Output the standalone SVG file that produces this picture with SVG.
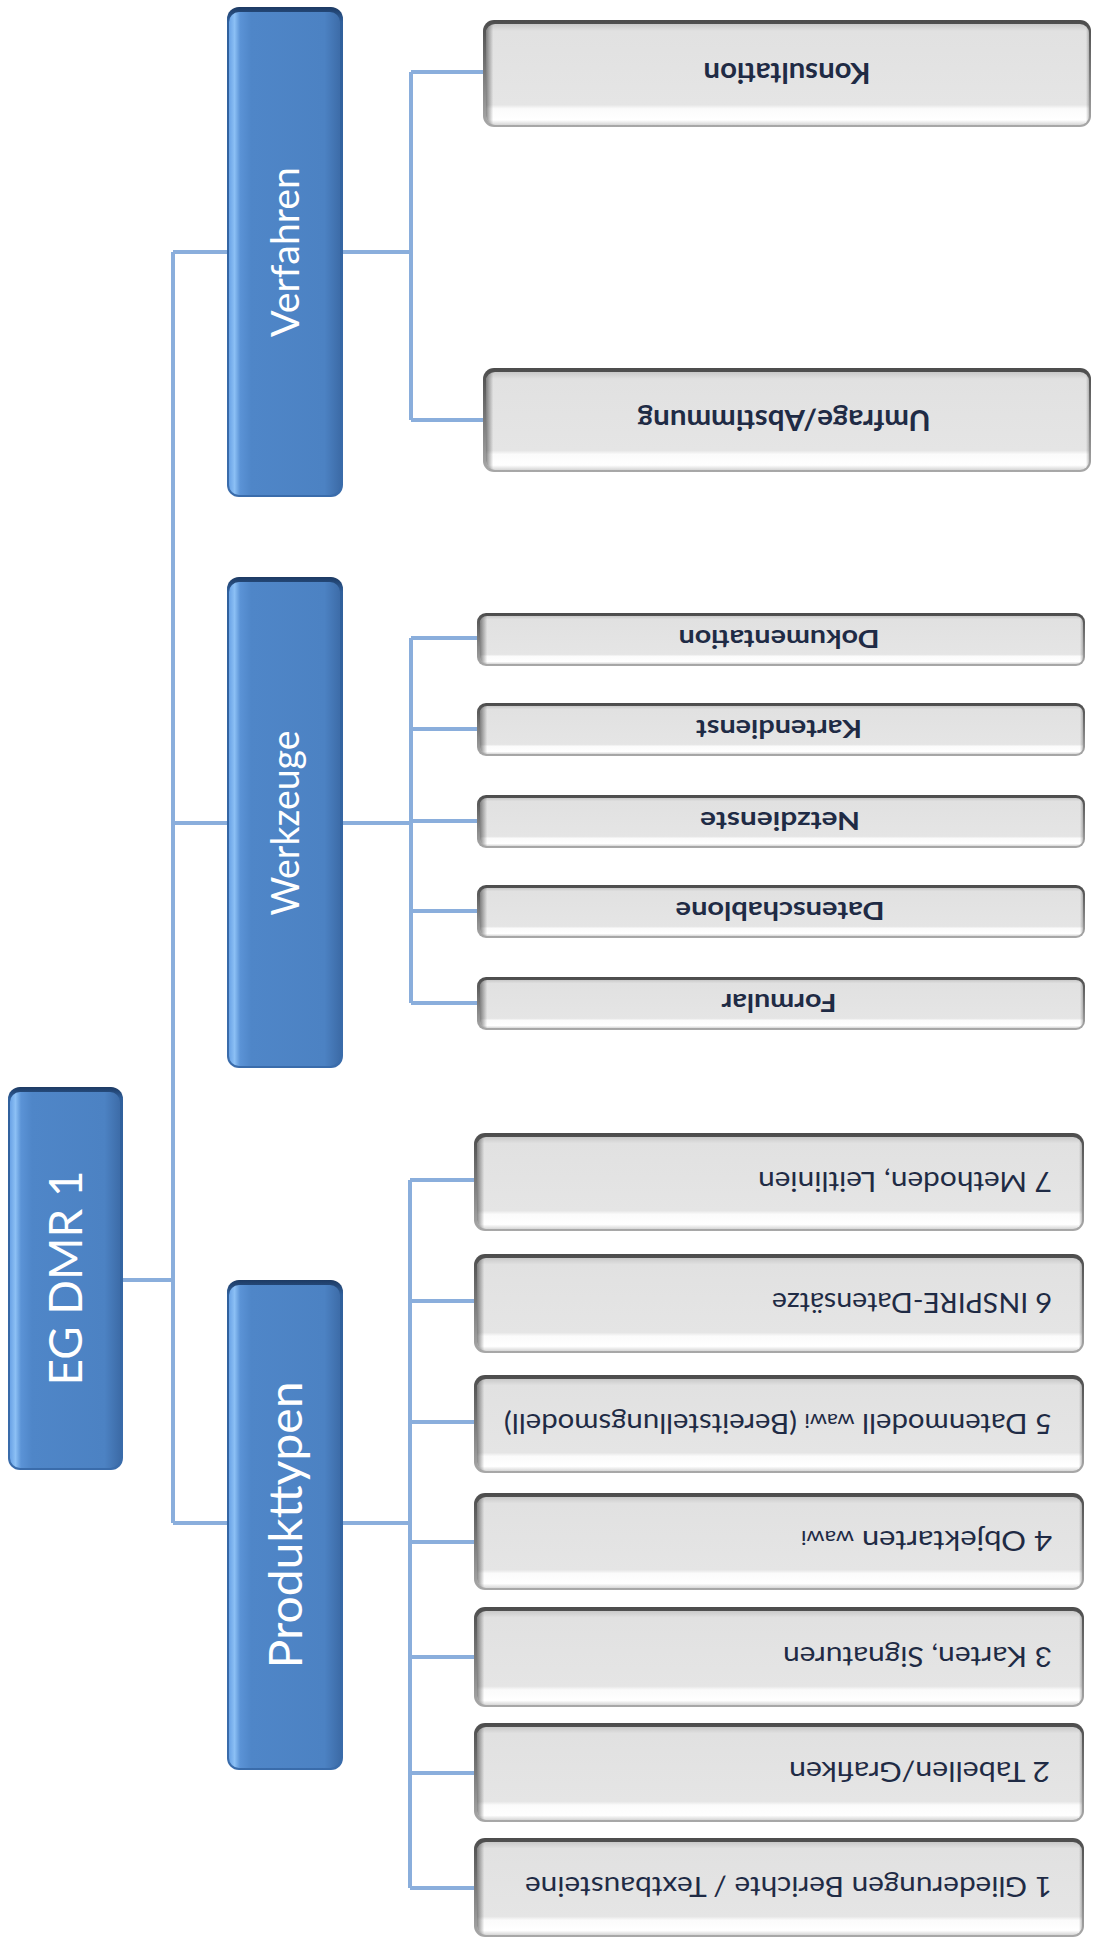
<svg xmlns="http://www.w3.org/2000/svg" width="1093" height="1945" viewBox="0 0 1093 1945">
<style>
.conn{fill:none;stroke:#8aaedc;stroke-width:4}
.mt{font-family:Lato,'Open Sans',sans-serif;fill:#ffffff}
.ct{font-family:Lato,'Open Sans',sans-serif;fill:#1f2b45}
.cb{font-weight:bold}
.rimB{fill:url(#blueRim)}
.faceB{fill:url(#blueFace)}
.rimG{fill:url(#grayRim)}
.faceG{fill:url(#grayFace)}
.shadeG{fill:url(#grayLeft)}
</style>
<defs>
<linearGradient id="blueRim" x1="0" y1="0" x2="0" y2="1">
<stop offset="0" stop-color="#1d3a63"/><stop offset="0.03" stop-color="#30609c"/><stop offset="1" stop-color="#3a6cab"/>
</linearGradient>
<linearGradient id="blueFace" x1="0" y1="0" x2="1" y2="0">
<stop offset="0" stop-color="#6aa3e6"/><stop offset="0.05" stop-color="#8cc0f5"/><stop offset="0.1" stop-color="#5b93d6"/><stop offset="0.2" stop-color="#4f86c8"/><stop offset="0.86" stop-color="#4c82c3"/><stop offset="1" stop-color="#3d6ca8"/>
</linearGradient>
<linearGradient id="grayRim" x1="0" y1="0" x2="0" y2="1">
<stop offset="0" stop-color="#4c4c4c"/><stop offset="0.5" stop-color="#7a7a7a"/><stop offset="1" stop-color="#a8a8a8"/>
</linearGradient>
<linearGradient id="grayFace" x1="0" y1="0" x2="0" y2="1">
<stop offset="0" stop-color="#c9c9c9"/><stop offset="0.07" stop-color="#e1e1e1"/><stop offset="0.8" stop-color="#e5e5e5"/><stop offset="0.84" stop-color="#fbfbfb"/><stop offset="0.95" stop-color="#ffffff"/><stop offset="1" stop-color="#d6d6d6"/>
</linearGradient>
<linearGradient id="grayLeft" x1="0" y1="0" x2="1" y2="0">
<stop offset="0" stop-color="#3c3c3c" stop-opacity="0.6"/><stop offset="0.012" stop-color="#3c3c3c" stop-opacity="0"/><stop offset="0.995" stop-color="#3c3c3c" stop-opacity="0"/><stop offset="1" stop-color="#3c3c3c" stop-opacity="0.3"/>
</linearGradient>
</defs>
<rect width="1093" height="1945" fill="#ffffff"/>

<g id="connectors">
<path class="conn" d="M173 252 V1523"/>
<path class="conn" d="M173 252 H229 M173 823 H229 M173 1523 H229"/>
<path class="conn" d="M121 1280 H173"/>
<path class="conn" d="M341 252 H411 M411 72 V420 M411 72 H485 M411 420 H485"/>
<path class="conn" d="M341 823 H411 M411 638 V1003 M411 638 H479 M411 729 H479 M411 821 H479 M411 911 H479 M411 1003 H479"/>
<path class="conn" d="M341 1523 H410 M410 1180 V1888 M410 1180 H476 M410 1301 H476 M410 1422 H476 M410 1542 H476 M410 1657 H476 M410 1773 H476 M410 1888 H476"/>
</g>

<g id="node-egdmr1">
<rect class="rimB" x="8" y="1087" width="115" height="383" rx="12"/>
<rect class="faceB" x="10" y="1092" width="110" height="376" rx="10"/>
<text class="mt" x="65" y="1295" font-size="47" text-anchor="middle" textLength="215" lengthAdjust="spacingAndGlyphs" transform="rotate(-90 65 1278)">EG DMR 1</text>
</g>

<g id="node-verfahren">
<rect class="rimB" x="227" y="7" width="116" height="490" rx="12"/>
<rect class="faceB" x="229" y="12" width="111" height="483" rx="10"/>
<text class="mt" x="285" y="266" font-size="38" text-anchor="middle" textLength="170" lengthAdjust="spacingAndGlyphs" transform="rotate(-90 285 252)">Verfahren</text>
</g>

<g id="node-werkzeuge">
<rect class="rimB" x="227" y="577" width="116" height="491" rx="12"/>
<rect class="faceB" x="229" y="582" width="111" height="484" rx="10"/>
<text class="mt" x="285" y="837" font-size="38" text-anchor="middle" textLength="185" lengthAdjust="spacingAndGlyphs" transform="rotate(-90 285 823)">Werkzeuge</text>
</g>

<g id="node-produkttypen">
<rect class="rimB" x="227" y="1280" width="116" height="490" rx="12"/>
<rect class="faceB" x="229" y="1285" width="111" height="483" rx="10"/>
<text class="mt" x="285" y="1542" font-size="46" text-anchor="middle" textLength="287" lengthAdjust="spacingAndGlyphs" transform="rotate(-90 285 1525)">Produkttypen</text>
</g>

<g id="node-konsultation">
<rect class="rimG" x="483" y="20" width="608" height="107" rx="11"/>
<rect class="faceG" x="486" y="24" width="603" height="101" rx="9"/>
<rect class="shadeG" x="486" y="24" width="603" height="101" rx="9"/>
<text class="ct cb" x="787" y="83" font-size="28" text-anchor="middle" textLength="167" lengthAdjust="spacingAndGlyphs" transform="rotate(180 787 73)">Konsultation</text>
</g>

<g id="node-umfrage">
<rect class="rimG" x="483" y="368" width="608" height="104" rx="11"/>
<rect class="faceG" x="486" y="372" width="603" height="98" rx="9"/>
<rect class="shadeG" x="486" y="372" width="603" height="98" rx="9"/>
<text class="ct cb" x="784" y="430" font-size="28" text-anchor="middle" textLength="293" lengthAdjust="spacingAndGlyphs" transform="rotate(180 784 420)">Umfrage/Abstimmung</text>
</g>

<g id="node-dokumentation">
<rect class="rimG" x="477" y="613" width="608" height="53" rx="9"/>
<rect class="faceG" x="480" y="616" width="603" height="48" rx="7"/>
<rect class="shadeG" x="480" y="616" width="603" height="48" rx="7"/>
<text class="ct cb" x="779" y="648" font-size="24" text-anchor="middle" textLength="201" lengthAdjust="spacingAndGlyphs" transform="rotate(180 779 639)">Dokumentation</text>
</g>

<g id="node-kartendienst">
<rect class="rimG" x="477" y="703" width="608" height="53" rx="9"/>
<rect class="faceG" x="480" y="706" width="603" height="48" rx="7"/>
<rect class="shadeG" x="480" y="706" width="603" height="48" rx="7"/>
<text class="ct cb" x="779" y="738" font-size="24" text-anchor="middle" textLength="166" lengthAdjust="spacingAndGlyphs" transform="rotate(180 779 729)">Kartendienst</text>
</g>

<g id="node-netzdienste">
<rect class="rimG" x="477" y="795" width="608" height="53" rx="9"/>
<rect class="faceG" x="480" y="798" width="603" height="48" rx="7"/>
<rect class="shadeG" x="480" y="798" width="603" height="48" rx="7"/>
<text class="ct cb" x="780" y="830" font-size="24" text-anchor="middle" textLength="160" lengthAdjust="spacingAndGlyphs" transform="rotate(180 780 821)">Netzdienste</text>
</g>

<g id="node-datenschablone">
<rect class="rimG" x="477" y="885" width="608" height="53" rx="9"/>
<rect class="faceG" x="480" y="888" width="603" height="48" rx="7"/>
<rect class="shadeG" x="480" y="888" width="603" height="48" rx="7"/>
<text class="ct cb" x="780" y="920" font-size="24" text-anchor="middle" textLength="209" lengthAdjust="spacingAndGlyphs" transform="rotate(180 780 911)">Datenschablone</text>
</g>

<g id="node-formular">
<rect class="rimG" x="477" y="977" width="608" height="53" rx="9"/>
<rect class="faceG" x="480" y="980" width="603" height="48" rx="7"/>
<rect class="shadeG" x="480" y="980" width="603" height="48" rx="7"/>
<text class="ct cb" x="779" y="1012" font-size="24" text-anchor="middle" textLength="115" lengthAdjust="spacingAndGlyphs" transform="rotate(180 779 1003)">Formular</text>
</g>

<g id="node-p7">
<rect class="rimG" x="474" y="1133" width="610" height="98" rx="11"/>
<rect class="faceG" x="477" y="1137" width="605" height="92" rx="9"/>
<rect class="shadeG" x="477" y="1137" width="605" height="92" rx="9"/>
<text class="ct" x="1052" y="1192" font-size="27" textLength="294" lengthAdjust="spacingAndGlyphs" transform="rotate(180 1052 1182)">7 Methoden, Leitlinien</text>
</g>

<g id="node-p6">
<rect class="rimG" x="474" y="1254" width="610" height="99" rx="11"/>
<rect class="faceG" x="477" y="1258" width="605" height="93" rx="9"/>
<rect class="shadeG" x="477" y="1258" width="605" height="93" rx="9"/>
<text class="ct" x="1052" y="1313" font-size="27" textLength="280" lengthAdjust="spacingAndGlyphs" transform="rotate(180 1052 1303)">6 INSPIRE-Datensätze</text>
</g>

<g id="node-p5">
<rect class="rimG" x="474" y="1375" width="610" height="98" rx="11"/>
<rect class="faceG" x="477" y="1379" width="605" height="92" rx="9"/>
<rect class="shadeG" x="477" y="1379" width="605" height="92" rx="9"/>
<text class="ct" x="1052" y="1434" font-size="27" textLength="548" lengthAdjust="spacingAndGlyphs" transform="rotate(180 1052 1424)">5 Datenmodell <tspan font-size="20">wawi</tspan> (Bereitstellungsmodell)</text>
</g>

<g id="node-p4">
<rect class="rimG" x="474" y="1493" width="610" height="97" rx="11"/>
<rect class="faceG" x="477" y="1497" width="605" height="91" rx="9"/>
<rect class="shadeG" x="477" y="1497" width="605" height="91" rx="9"/>
<text class="ct" x="1052" y="1551" font-size="27" textLength="251" lengthAdjust="spacingAndGlyphs" transform="rotate(180 1052 1541)">4 Objektarten <tspan font-size="20">wawi</tspan></text>
</g>

<g id="node-p3">
<rect class="rimG" x="474" y="1607" width="610" height="100" rx="11"/>
<rect class="faceG" x="477" y="1611" width="605" height="94" rx="9"/>
<rect class="shadeG" x="477" y="1611" width="605" height="94" rx="9"/>
<text class="ct" x="1052" y="1667" font-size="27" textLength="269" lengthAdjust="spacingAndGlyphs" transform="rotate(180 1052 1657)">3 Karten, Signaturen</text>
</g>

<g id="node-p2">
<rect class="rimG" x="474" y="1723" width="610" height="99" rx="11"/>
<rect class="faceG" x="477" y="1727" width="605" height="93" rx="9"/>
<rect class="shadeG" x="477" y="1727" width="605" height="93" rx="9"/>
<text class="ct" x="1050" y="1782" font-size="27" textLength="261" lengthAdjust="spacingAndGlyphs" transform="rotate(180 1050 1772)">2 Tabellen/Grafiken</text>
</g>

<g id="node-p1">
<rect class="rimG" x="474" y="1838" width="610" height="99" rx="11"/>
<rect class="faceG" x="477" y="1842" width="605" height="93" rx="9"/>
<rect class="shadeG" x="477" y="1842" width="605" height="93" rx="9"/>
<text class="ct" x="1052" y="1897" font-size="27" textLength="527" lengthAdjust="spacingAndGlyphs" transform="rotate(180 1052 1887)">1 Gliederungen Berichte / Textbausteine</text>
</g>
</svg>
